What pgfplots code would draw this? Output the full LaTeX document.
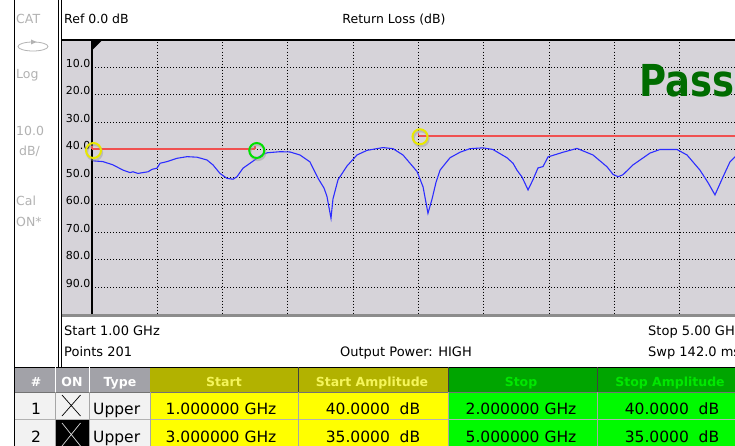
\documentclass[border=0pt]{standalone}
\usepackage{fontspec}
\setmainfont{DejaVu Sans}
\usepackage{pgfplots}
\pgfplotsset{compat=1.18}

\definecolor{panel}{RGB}{214,211,217}
\definecolor{side}{RGB}{178,178,178}
\definecolor{trace}{RGB}{45,45,255}
\definecolor{limred}{RGB}{240,80,80}
\definecolor{mkyellow}{RGB}{232,232,0}
\definecolor{mkgreen}{RGB}{0,225,0}
\definecolor{passgreen}{RGB}{0,108,0}
\definecolor{hdgray}{RGB}{162,162,168}
\definecolor{hdolive}{RGB}{178,178,0}
\definecolor{hdolivetxt}{RGB}{245,245,90}
\definecolor{hdgreen}{RGB}{0,165,0}
\definecolor{hdgreentxt}{RGB}{0,232,0}
\definecolor{cellyellow}{RGB}{255,255,0}
\definecolor{cellgreen}{RGB}{0,250,0}
\definecolor{celllight}{RGB}{242,242,242}

\newcommand{\fs}[1]{\fontsize{#1}{#1}\selectfont}

\pgfplotsset{
  vnaframe/.style={
    at={(92pt,-314.5pt)}, anchor=south west,
    scale only axis, width=653pt, height=275pt,
    xmin=1, xmax=5, ymin=0, ymax=100, y dir=reverse,
    clip=false,
  },
}

\begin{document}
\begin{tikzpicture}
\useasboundingbox (0pt,0pt) rectangle (735pt,-446pt);
\clip (0pt,0pt) rectangle (735pt,-446pt);

% frame, sidebar and header box
\begin{scope}[x=1pt,y=1pt]
\fill[white] (0,0) rectangle (735,-446);
\fill[panel] (61.5,-41) rectangle (760,-314);
\draw[black,line width=1pt] (14.5,0) -- (14.5,-446);
\draw[black,line width=0.8pt] (58.5,0) -- (58.5,-367);
\draw[black,line width=0.8pt] (61.5,0) -- (61.5,-367);
\draw[black,line width=2pt] (61.5,-40) -- (760,-40);

\begin{scope}[every node/.style={anchor=base west,inner sep=0pt,text=side,font=\fs{12.5}}]
\node at (16,-24) {CAT};
\node at (16,-79) {Log};
\node at (16,-136) {10.0};
\node at (19,-156) {dB/};
\node at (16,-206) {Cal};
\node at (16,-226) {ON*};
\end{scope}
\draw[side,line width=0.8pt] (33,-46.5) ellipse (15 and 4.5);
\fill[side] (31,-39.5) -- (36.5,-42) -- (31,-44.5) -- cycle;

\node[anchor=base west,inner sep=0pt,font=\fs{12.5}] at (64,-24) {Ref 0.0 dB};
\node[anchor=base,inner sep=0pt,font=\fs{12.5}] at (394,-24) {Return Loss (dB)};
\end{scope}

% grid and measured trace
\begin{axis}[
  vnaframe,
  xtick={1.4,1.8,2.2,2.6,3,3.4,3.8,4.2,4.6}, xticklabels={},
  ytick={10,20,30,40,50,60,70,80,90},
  yticklabels={10.0,20.0,30.0,40.0,50.0,60.0,70.0,80.0,90.0},
  xmajorgrids, ymajorgrids,
  grid style={black,line width=1pt,dash pattern=on 1pt off 2pt},
  major tick length=0pt,
  axis line style={draw=none},
  yticklabel style={font=\fs{11},anchor=base east,inner sep=0pt,xshift=-1.5pt},
]
\addplot[trace,line width=1.1pt] coordinates {
(1.002,44.1)(1.067,44.4)(1.129,45.6)(1.190,47.5)(1.233,48.4)(1.251,48.1)
(1.282,48.7)(1.312,48.4)(1.343,48.1)(1.368,47.2)(1.398,46.8)(1.417,45.0)
(1.460,44.4)(1.521,43.2)(1.582,42.6)(1.643,42.8)(1.704,43.8)(1.741,45.6)
(1.784,48.7)(1.827,50.5)(1.864,50.8)(1.888,49.9)(1.925,46.8)(1.968,45.0)
(2.011,43.2)(2.041,42.0)(2.072,41.2)(2.152,40.8)(2.213,40.9)(2.274,42.0)
(2.335,44.5)(2.384,50.4)(2.421,54.0)(2.439,57.0)(2.464,65.0)(2.476,58.0)
(2.507,51.0)(2.562,46.0)(2.623,42.0)(2.685,40.3)(2.783,39.3)(2.844,39.7)
(2.905,42.0)(2.948,45.0)(2.991,48.0)(3.028,53.6)(3.058,63.2)(3.083,58.0)
(3.107,52.0)(3.132,47.5)(3.193,43.0)(3.254,41.0)(3.315,39.7)(3.395,39.4)
(3.456,40.0)(3.542,43.0)(3.579,45.0)(3.603,47.5)(3.634,50.0)(3.671,54.7)
(3.701,51.0)(3.732,46.7)(3.763,46.2)(3.793,42.7)(3.885,41.0)(3.971,39.6)
(4.069,42.0)(4.155,46.3)(4.191,49.0)(4.222,49.9)(4.252,49.2)(4.314,45.6)
(4.418,41.3)(4.479,40.0)(4.583,40.0)(4.645,42.0)(4.724,47.5)(4.773,52.0)
(4.816,56.5)(4.865,50.0)(4.908,44.5)(4.951,42.0)(5.000,41.0)
};
\draw[black,line width=1.5pt] (axis cs:1,0) -- (axis cs:1,100);
\end{axis}

% limit lines and limit markers, on top of the grid
\begin{axis}[vnaframe, hide axis]
\addplot[draw=limred,line width=2pt,solid] coordinates {(1,40)(1.5,40)(2,40)};
\addplot[draw=limred,line width=1.6pt,solid] coordinates {(1,38.9)(1,40)};
\addplot[draw=limred,line width=1.6pt,solid] coordinates {(2,38.9)(2,40)};
\addplot[draw=limred,line width=2pt,solid] coordinates {(3,35)(5,35)};
\addplot[draw=limred,line width=1.6pt,solid] coordinates {(3,33.9)(3,35)};
\addplot[only marks,mark=o,mark size=7.5pt,black!40,opacity=0.45,line width=2.2pt,
  mark options={xshift=2.5pt,yshift=-3pt}] coordinates {(1,40)(3,35)(2,40)(5,35)};
\addplot[only marks,mark=o,mark size=7.5pt,mkyellow,line width=2pt,
  mark options={xshift=1.5pt,yshift=-1pt}] coordinates {(1,40)(3,35)};
\addplot[only marks,mark=o,mark size=7.5pt,mkgreen,line width=2pt,
  mark options={xshift=1.5pt,yshift=-1pt}] coordinates {(2,40)(5,35)};
\end{axis}

\begin{scope}[x=1pt,y=1pt]
\fill[black] (92.3,-40.7) -- (101.7,-40.7) -- (92.3,-50) -- cycle;
\draw[black!45,line width=2.5pt] (61.5,-315.5) -- (760,-315.5);
\node[anchor=base west,inner sep=0pt,text=passgreen,font=\bfseries\fs{44},xscale=0.84] at (639,-97) {Pass};

% info lines
\begin{scope}[every node/.style={inner sep=0pt,font=\fs{13}}]
\node[anchor=base west] at (64,-335) {Start 1.00 GHz};
\node[anchor=base west] at (64,-356) {Points 201};
\node[anchor=base east] at (472,-356) {Output Power: HIGH};
\node[anchor=base west] at (648,-335) {Stop 5.00 GHz};
\node[anchor=base west] at (648,-356) {Swp 142.0 ms};
\end{scope}

% limit table
\fill[hdgray] (14.5,-367) rectangle (150,-392);
\fill[hdolive] (150,-367) rectangle (448,-392);
\fill[hdgreen] (448,-367) rectangle (760,-392);
\fill[celllight] (14.5,-392) rectangle (150,-446);
\fill[cellyellow] (150,-392) rectangle (448,-446);
\fill[cellgreen] (448,-392) rectangle (760,-446);
\fill[black] (55.5,-419) rectangle (89,-446);
\draw[black,line width=1pt] (14.5,-367.5) -- (760,-367.5);
\draw[white,line width=0.8pt] (55.5,-367) -- (55.5,-392) (89,-367) -- (89,-392);
\draw[black!75,line width=0.8pt] (298,-367) -- (298,-392) (448,-367) -- (448,-392)
  (597,-367) -- (597,-392);
\draw[black!55,line width=0.8pt] (14.5,-392) -- (760,-392);
\draw[black!30,line width=0.8pt] (14.5,-419) -- (760,-419);
\draw[black!35,line width=0.6pt] (55.5,-392) -- (55.5,-446) (89,-392) -- (89,-446)
  (150,-392) -- (150,-446) (298,-392) -- (298,-446) (448,-392) -- (448,-446)
  (597,-392) -- (597,-446);
\draw[black,line width=0.7pt] (62,-395) -- (80.5,-416) (62,-416) -- (80.5,-395);
\draw[black!15,line width=0.7pt] (62,-423) -- (80.5,-446) (62,-446) -- (80.5,-423);

\begin{scope}[every node/.style={anchor=base,inner sep=0pt,font=\bfseries\fs{12.5}}]
\node[text=white] at (36,-386) {\#};
\node[text=white] at (72,-386) {ON};
\node[text=white] at (120,-386) {Type};
\node[text=hdolivetxt] at (224,-386) {Start};
\node[text=hdolivetxt] at (372,-386) {Start Amplitude};
\node[text=hdgreentxt] at (521,-386) {Stop};
\node[text=hdgreentxt] at (670,-386) {Stop Amplitude};
\end{scope}
\begin{scope}[every node/.style={anchor=base,inner sep=0pt,font=\fs{15.5}}]
\node at (36,-414) {1};
\node at (36,-442) {2};
\node[anchor=base west] at (93,-414) {Upper};
\node[anchor=base west] at (93,-442) {Upper};
\node at (221,-414) {1.000000 GHz};
\node at (221,-442) {3.000000 GHz};
\node at (373,-414) {40.0000\ \ dB};
\node at (373,-442) {35.0000\ \ dB};
\node at (521,-414) {2.000000 GHz};
\node at (521,-442) {5.000000 GHz};
\node at (672,-414) {40.0000\ \ dB};
\node at (672,-442) {35.0000\ \ dB};
\end{scope}
\end{scope}
\end{tikzpicture}
\end{document}
